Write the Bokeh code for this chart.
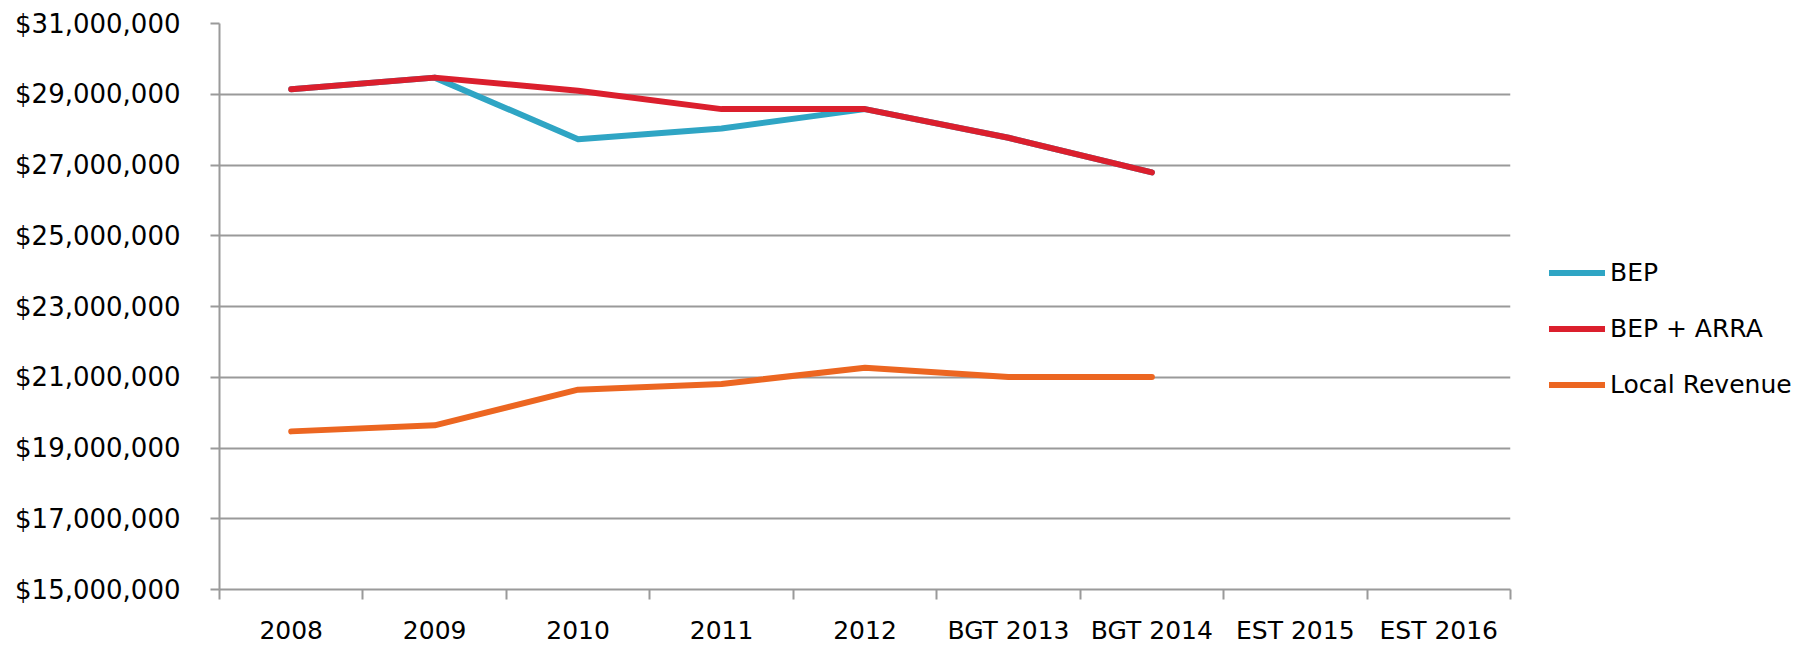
from bokeh.plotting import figure
from bokeh.models import (Range1d, FixedTicker, NumeralTickFormatter, Legend, LegendItem)
from bokeh.embed import file_html
from bokeh.resources import INLINE

categories = ["2008", "2009", "2010", "2011", "2012", "BGT 2013", "BGT 2014", "EST 2015", "EST 2016"]
bep = [29140000, 29470000, 27730000, 28030000, 28580000, 27770000, 26790000]
bep_arra = [29140000, 29470000, 29100000, 28580000, 28580000, 27770000, 26790000]
local_revenue = [19470000, 19640000, 20650000, 20810000, 21270000, 21010000, 21010000]
y_ticks = [15000000, 17000000, 19000000, 21000000, 23000000, 25000000, 27000000, 29000000, 31000000]

n = len(categories)
centers = [i + 0.5 for i in range(n)]
bounds = [i for i in range(n + 1)]

p = figure(frame_width=1291, frame_height=566, output_backend="svg", toolbar_location=None,
           x_range=Range1d(0, n), y_range=Range1d(y_ticks[0], y_ticks[-1]),
           min_border_left=219, min_border_right=280, min_border_top=23, min_border_bottom=10)
p.outline_line_color = None
p.background_fill_color = "white"

FONT = "DejaVu Sans"
GRAY = "#9a9a9a"

# x axis
xa = p.xaxis[0]
xa.ticker = FixedTicker(ticks=centers, minor_ticks=bounds)
xa.major_label_overrides = {c: lab for c, lab in zip(centers, categories)}
xa.major_tick_out = 0
xa.major_tick_in = 0
xa.minor_tick_out = 10
xa.minor_tick_in = 0
xa.minor_tick_line_color = GRAY
xa.minor_tick_line_width = 2
xa.axis_line_color = GRAY
xa.axis_line_width = 2
xa.major_label_text_font = FONT
xa.major_label_text_font_size = "25px"
xa.major_label_text_color = "black"
xa.major_label_standoff = 16

# y axis
ya = p.yaxis[0]
ya.ticker = FixedTicker(ticks=y_ticks)
ya.formatter = NumeralTickFormatter(format="$0,0")
ya.major_tick_out = 9
ya.major_tick_in = 0
ya.minor_tick_line_color = None
ya.major_tick_line_color = GRAY
ya.major_tick_line_width = 2
ya.axis_line_color = GRAY
ya.axis_line_width = 2
ya.major_label_text_font = FONT
ya.major_label_text_font_size = "26px"
ya.major_label_text_color = "black"
ya.major_label_standoff = 30

p.xgrid.visible = False
p.ygrid.grid_line_color = GRAY
p.ygrid.grid_line_width = 2

BLUE = "#2fa5c4"
RED = "#db1f2d"
ORANGE = "#ec6621"

m = len(bep)
r_bep = p.line(centers[:m], bep, line_color=BLUE, line_width=6, line_cap="round", line_join="round")
r_loc = p.line(centers[:m], local_revenue, line_color=ORANGE, line_width=6, line_cap="round", line_join="round")
r_arra = p.line(centers[:m], bep_arra, line_color=RED, line_width=6, line_cap="round", line_join="round")

legend = Legend(items=[LegendItem(label="BEP", renderers=[r_bep]),
                       LegendItem(label="BEP + ARRA", renderers=[r_arra]),
                       LegendItem(label="Local Revenue", renderers=[r_loc])],
                location=(39, 190), orientation="vertical")
legend.border_line_color = None
legend.background_fill_alpha = 0
legend.padding = 0
legend.margin = 0
legend.spacing = 27
legend.glyph_width = 56
legend.glyph_height = 25
legend.label_height = 25
legend.label_standoff = 5
legend.label_text_font = FONT
legend.label_text_font_size = "25px"
legend.label_text_color = "black"
p.add_layout(legend, "right")

open("out.html", "w").write(file_html(p, INLINE))
